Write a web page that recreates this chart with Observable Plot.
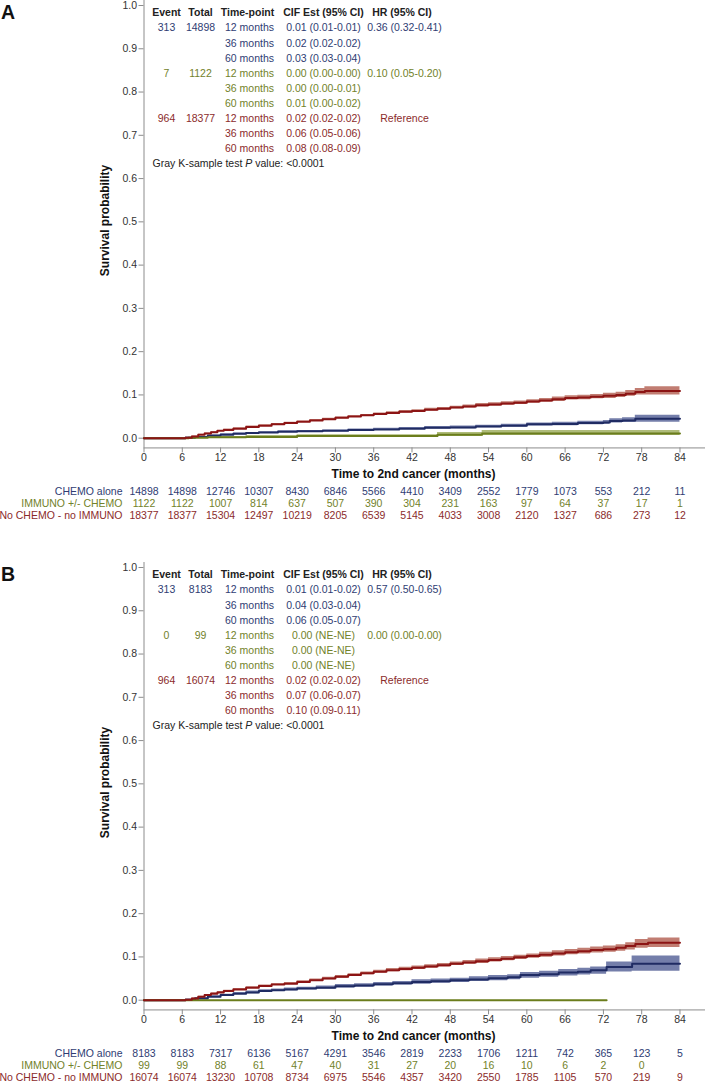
<!DOCTYPE html>
<html><head><meta charset="utf-8">
<script src="https://cdn.jsdelivr.net/npm/d3@7"></script>
<script src="https://cdn.jsdelivr.net/npm/@observablehq/plot@0.6"></script>
<style>
html,body{margin:0;padding:0;background:#fff;overflow:hidden;}
#chart svg{display:block;}
</style></head><body><div id="chart"></div>
<script>
// ---------- DATA ----------
const groupLabels = ["CHEMO alone", "IMMUNO +/- CHEMO", "No CHEMO - no IMMUNO"];
const timePoints = ["12 months", "36 months", "60 months"];
const headers = ["Event", "Total", "Time-point", "CIF Est (95% CI)", "HR (95% CI)"];
const grayText = "Gray K-sample test P value: <0.0001";
const xTicks = [0, 6, 12, 18, 24, 30, 36, 42, 48, 54, 60, 66, 72, 78, 84];
const yTicks = [0, 0.1, 0.2, 0.3, 0.4, 0.5, 0.6, 0.7, 0.8, 0.9, 1.0];
const riskTimes = [0, 6, 12, 18, 24, 30, 36, 42, 48, 54, 60, 66, 72, 78, 84];

// Panel A table
const A_event = ["313", "7", "964"];
const A_total = ["14898", "1122", "18377"];
const A_cif_chemo = ["0.01 (0.01-0.01)", "0.02 (0.02-0.02)", "0.03 (0.03-0.04)"];
const A_cif_immuno = ["0.00 (0.00-0.00)", "0.00 (0.00-0.01)", "0.01 (0.00-0.02)"];
const A_cif_none = ["0.02 (0.02-0.02)", "0.06 (0.05-0.06)", "0.08 (0.08-0.09)"];
const A_hr = ["0.36 (0.32-0.41)", "0.10 (0.05-0.20)", "Reference"];
// Panel B table
const B_event = ["313", "0", "964"];
const B_total = ["8183", "99", "16074"];
const B_cif_chemo = ["0.01 (0.01-0.02)", "0.04 (0.03-0.04)", "0.06 (0.05-0.07)"];
const B_cif_immuno = ["0.00 (NE-NE)", "0.00 (NE-NE)", "0.00 (NE-NE)"];
const B_cif_none = ["0.02 (0.02-0.02)", "0.07 (0.06-0.07)", "0.10 (0.09-0.11)"];
const B_hr = ["0.57 (0.50-0.65)", "0.00 (0.00-0.00)", "Reference"];

// Risk tables
const A_risk_chemo = [14898, 14898, 12746, 10307, 8430, 6846, 5566, 4410, 3409, 2552, 1779, 1073, 553, 212, 11];
const A_risk_immuno = [1122, 1122, 1007, 814, 637, 507, 390, 304, 231, 163, 97, 64, 37, 17, 1];
const A_risk_none = [18377, 18377, 15304, 12497, 10219, 8205, 6539, 5145, 4033, 3008, 2120, 1327, 686, 273, 12];
const B_risk_chemo = [8183, 8183, 7317, 6136, 5167, 4291, 3546, 2819, 2233, 1706, 1211, 742, 365, 123, 5];
const B_risk_immuno = [99, 99, 88, 61, 47, 40, 31, 27, 20, 16, 10, 6, 2, 0];
const B_risk_none = [16074, 16074, 13230, 10708, 8734, 6975, 5546, 4357, 3420, 2550, 1785, 1105, 570, 219, 9];

// Panel A curves
const A_chemo_t   = [0, 6.5, 8, 10, 12, 14, 16, 18, 21, 24, 28, 32, 36, 40, 44, 48, 52, 56, 60, 64, 68, 72, 73, 75, 77, 84];
const A_chemo_est = [0, 0.001, 0.003, 0.006, 0.008, 0.010, 0.012, 0.013, 0.015, 0.016, 0.017, 0.019, 0.020, 0.022, 0.024, 0.025, 0.027, 0.029, 0.032, 0.033, 0.035, 0.036, 0.040, 0.041, 0.045, 0.045];
const A_chemo_lo  = [0, 0.000, 0.002, 0.004, 0.007, 0.008, 0.010, 0.011, 0.013, 0.014, 0.015, 0.017, 0.018, 0.020, 0.021, 0.022, 0.024, 0.026, 0.028, 0.029, 0.031, 0.032, 0.035, 0.036, 0.037, 0.037];
const A_chemo_hi  = [0, 0.002, 0.004, 0.007, 0.010, 0.012, 0.013, 0.015, 0.017, 0.018, 0.019, 0.021, 0.023, 0.025, 0.027, 0.028, 0.030, 0.032, 0.035, 0.037, 0.039, 0.041, 0.045, 0.047, 0.053, 0.053];

const A_immuno_t   = [0, 7, 10, 16, 24, 46, 53, 84];
const A_immuno_est = [0, 0.001, 0.002, 0.003, 0.005, 0.008, 0.011, 0.011];
const A_immuno_lo  = [0, 0.000, 0.000, 0.001, 0.002, 0.004, 0.006, 0.006];
const A_immuno_hi  = [0, 0.002, 0.004, 0.006, 0.008, 0.013, 0.018, 0.018];

const A_none_t   = [0, 6.5, 7.5, 8.5, 9.5, 10.5, 11.5, 12.5, 14, 16, 18, 20, 22, 24, 26, 28, 30, 32, 34, 36, 38, 40, 42, 44, 46, 48, 50, 52, 54, 56, 58, 60, 62, 64, 66, 68, 70, 72, 74, 75.5, 77, 78.5, 84];
const A_none_est = [0, 0.001, 0.004, 0.008, 0.011, 0.014, 0.017, 0.019, 0.022, 0.026, 0.029, 0.032, 0.035, 0.038, 0.041, 0.044, 0.047, 0.050, 0.053, 0.056, 0.058, 0.061, 0.063, 0.066, 0.068, 0.071, 0.073, 0.076, 0.078, 0.080, 0.082, 0.085, 0.087, 0.090, 0.093, 0.094, 0.096, 0.098, 0.100, 0.103, 0.107, 0.109, 0.109];
const A_none_lo  = [0, 0.000, 0.003, 0.007, 0.010, 0.013, 0.016, 0.018, 0.021, 0.024, 0.027, 0.030, 0.033, 0.036, 0.039, 0.042, 0.045, 0.048, 0.050, 0.053, 0.055, 0.058, 0.060, 0.063, 0.065, 0.068, 0.070, 0.072, 0.074, 0.076, 0.078, 0.081, 0.083, 0.085, 0.088, 0.089, 0.091, 0.092, 0.094, 0.097, 0.100, 0.100, 0.100];
const A_none_hi  = [0, 0.002, 0.005, 0.009, 0.012, 0.015, 0.018, 0.021, 0.024, 0.028, 0.031, 0.034, 0.037, 0.040, 0.043, 0.046, 0.049, 0.052, 0.055, 0.058, 0.061, 0.064, 0.066, 0.069, 0.071, 0.074, 0.077, 0.080, 0.082, 0.084, 0.086, 0.089, 0.092, 0.095, 0.098, 0.099, 0.101, 0.104, 0.106, 0.110, 0.115, 0.119, 0.119];

// Panel B curves
const B_chemo_t   = [0, 6.5, 8, 10, 12, 14, 16, 18, 20, 22, 24, 27, 30, 33, 36, 39, 42, 45, 48, 51, 54, 57, 59, 62, 65, 68, 70, 72.5, 76.5, 84];
const B_chemo_est = [0, 0.001, 0.004, 0.008, 0.012, 0.015, 0.018, 0.021, 0.023, 0.025, 0.027, 0.029, 0.032, 0.034, 0.037, 0.039, 0.042, 0.044, 0.046, 0.048, 0.051, 0.053, 0.058, 0.060, 0.064, 0.066, 0.069, 0.077, 0.084, 0.084];
const B_chemo_lo  = [0, 0.000, 0.003, 0.006, 0.010, 0.013, 0.015, 0.018, 0.020, 0.022, 0.024, 0.026, 0.028, 0.030, 0.033, 0.035, 0.037, 0.039, 0.041, 0.043, 0.045, 0.047, 0.051, 0.053, 0.056, 0.058, 0.060, 0.065, 0.067, 0.067];
const B_chemo_hi  = [0, 0.002, 0.006, 0.010, 0.014, 0.018, 0.021, 0.024, 0.026, 0.028, 0.030, 0.033, 0.036, 0.038, 0.041, 0.043, 0.047, 0.049, 0.051, 0.054, 0.057, 0.059, 0.064, 0.067, 0.071, 0.074, 0.077, 0.088, 0.102, 0.102];

const B_immuno_t   = [0, 72.5];
const B_immuno_est = [0, 0];
const B_immuno_lo  = [0, 0];
const B_immuno_hi  = [0, 0];

const B_none_t   = [0, 6.5, 7.5, 8.5, 9.5, 10.5, 11.5, 12.5, 14, 16, 18, 20, 22, 24, 26, 28, 30, 32, 34, 36, 38, 40, 42, 44, 46, 48, 50, 52, 54, 56, 58, 60, 62, 64, 66, 68, 70, 72, 74, 75.5, 77, 79, 84];
const B_none_est = [0, 0.001, 0.004, 0.008, 0.012, 0.015, 0.018, 0.021, 0.025, 0.029, 0.033, 0.036, 0.038, 0.042, 0.046, 0.050, 0.054, 0.058, 0.062, 0.066, 0.069, 0.072, 0.075, 0.078, 0.081, 0.084, 0.087, 0.090, 0.093, 0.096, 0.099, 0.102, 0.105, 0.108, 0.111, 0.113, 0.116, 0.118, 0.121, 0.125, 0.130, 0.133, 0.133];
const B_none_lo  = [0, 0.000, 0.003, 0.007, 0.011, 0.014, 0.017, 0.019, 0.023, 0.027, 0.031, 0.034, 0.036, 0.040, 0.043, 0.047, 0.051, 0.055, 0.059, 0.063, 0.066, 0.068, 0.071, 0.074, 0.077, 0.080, 0.083, 0.085, 0.088, 0.091, 0.094, 0.097, 0.099, 0.102, 0.105, 0.107, 0.109, 0.111, 0.113, 0.116, 0.120, 0.122, 0.122];
const B_none_hi  = [0, 0.002, 0.005, 0.009, 0.013, 0.017, 0.020, 0.023, 0.027, 0.031, 0.035, 0.038, 0.041, 0.045, 0.049, 0.053, 0.057, 0.061, 0.065, 0.069, 0.073, 0.076, 0.079, 0.082, 0.085, 0.088, 0.092, 0.095, 0.098, 0.101, 0.104, 0.107, 0.111, 0.114, 0.117, 0.120, 0.123, 0.125, 0.128, 0.133, 0.140, 0.144, 0.144];

// ---------- STYLE / LAYOUT ----------
const FONT = "'Liberation Sans', Arial, Helvetica, sans-serif";
const FS = 10.5;
const COLORS = [
  {line: "#1f2b63", band: "#4d5a92", text: "#2f3d73"},
  {line: "#6b7d1c", band: "#98a955", text: "#72822a"},
  {line: "#8c1414", band: "#b0584a", text: "#8b2b2b"}
];
const LAY = {
  width: 708, left: 143.5, right: 3, yZero: 437.7, yOne: 5, axisPix: 447.4,
  axisVal: -0.0225, topVal: 1.0115, xMax: 88,
  colEvent: 166, colTotal: 200, colTime: 249, colTimeHead: 247, colCif: 323, colHr: 404, colHrHead: 401.5,
  row0: 11, rowH: 15.1, grayX: 152,
  riskRows: [491, 503.5, 515.5], riskLabelRight: 122,
  xTitleY: 473.3, xTitleX: 413, yTitleX: 105, yTitleY: 220
};

function series(t, est, lo, hi) { return t.map((d, i) => ({t: d, est: est[i], lo: lo[i], hi: hi[i]})); }

function makePanel(p, H) {
  const marginBottom = H - LAY.axisPix;
  const rowY = r => LAY.row0 + r * LAY.rowH;
  const tText = (lines, colX, centerY, fill, weight, anchor = "middle") =>
    Plot.text([lines.join("\n")], {
      text: d => d, frameAnchor: "top-left", dx: colX - LAY.left, dy: centerY,
      textAnchor: anchor, lineAnchor: "middle", lineHeight: LAY.rowH / FS,
      fill, fontWeight: weight, fontSize: FS
    });
  const marks = [];
  // axis lines
  marks.push(Plot.ruleX([0], {y1: LAY.axisVal, y2: LAY.topVal, stroke: "#8c8c8c", strokeWidth: 1}));
  marks.push(Plot.ruleY([LAY.axisVal], {x1: 0, x2: LAY.xMax, stroke: "#8c8c8c", strokeWidth: 1}));
  marks.push(Plot.axisY({ticks: yTicks, tickSize: 5, tickPadding: 2, tickFormat: d3.format(".1f"), label: null, stroke: "#8c8c8c", fill: "#333", fontSize: FS}));
  marks.push(Plot.axisX({ticks: xTicks, tickSize: 5, tickPadding: 1, tickFormat: d => String(d), label: null, stroke: "#8c8c8c", fill: "#333", fontSize: FS}));
  // bands and lines
  p.curves.forEach((c, i) => {
    marks.push(Plot.areaY(c, {x: "t", y1: "lo", y2: "hi", curve: "step-after", fill: COLORS[i].band, fillOpacity: 0.78}));
  });
  p.curves.forEach((c, i) => {
    marks.push(Plot.line(c, {x: "t", y: "est", curve: "step-after", stroke: COLORS[i].line, strokeWidth: 2}));
  });
  // header
  const hcols = [LAY.colEvent, LAY.colTotal, LAY.colTimeHead, LAY.colCif, LAY.colHrHead];
  headers.forEach((h, j) => marks.push(tText([h], hcols[j], rowY(0), "#222", "bold")));
  // group rows
  for (let g = 0; g < 3; g++) {
    const col = COLORS[g].text;
    const r = 1 + 3 * g;
    marks.push(tText([p.event[g]], LAY.colEvent, rowY(r), col, "normal"));
    marks.push(tText([p.total[g]], LAY.colTotal, rowY(r), col, "normal"));
    marks.push(tText(timePoints, LAY.colTime, rowY(r + 1), col, "normal"));
    marks.push(tText(p.cif[g], LAY.colCif, rowY(r + 1), col, "normal"));
    marks.push(tText([p.hr[g]], LAY.colHr, rowY(r), col, "normal"));
  }
  marks.push(tText([grayText], LAY.grayX, rowY(10), "#222", "normal", "start"));
  // risk table
  p.risk.forEach((arr, g) => {
    const rows = arr.map((n, i) => ({t: riskTimes[i], n}));
    marks.push(Plot.text(rows, {x: "t", text: d => String(d.n), frameAnchor: "bottom", dy: LAY.riskRows[g] - LAY.axisPix, lineAnchor: "middle", fill: COLORS[g].text, fontSize: FS}));
    marks.push(Plot.text([groupLabels[g]], {text: d => d, frameAnchor: "bottom-left", dx: LAY.riskLabelRight - LAY.left, dy: LAY.riskRows[g] - LAY.axisPix, textAnchor: "end", lineAnchor: "middle", fill: COLORS[g].text, fontSize: FS}));
  });
  // axis titles
  marks.push(Plot.text(["Time to 2nd cancer (months)"], {text: d => d, frameAnchor: "top-left", dx: LAY.xTitleX - LAY.left, dy: LAY.xTitleY, textAnchor: "middle", lineAnchor: "middle", fontWeight: "bold", fontSize: 12, fill: "#111"}));
  marks.push(Plot.text(["Survival probability"], {text: d => d, frameAnchor: "top-left", dx: LAY.yTitleX - LAY.left, dy: LAY.yTitleY, textAnchor: "middle", rotate: -90, lineAnchor: "middle", fontWeight: "bold", fontSize: 12, fill: "#111"}));
  // panel letter
  marks.push(Plot.text([p.letter], {text: d => d, frameAnchor: "top-left", dx: 0.5 - LAY.left, dy: 4.6, textAnchor: "start", lineAnchor: "top", fontWeight: "bold", fontSize: 19.5, fill: "#111"}));

  const svg = Plot.plot({
    width: LAY.width, height: H,
    marginLeft: LAY.left, marginRight: LAY.right, marginTop: 0, marginBottom,
    x: {domain: [0, LAY.xMax]},
    y: {domain: [0, 1], range: [LAY.yZero, LAY.yOne]},
    style: {fontFamily: FONT, fontSize: FS + "px", background: "#fff", color: "#333", overflow: "visible"},
    marks
  });
  // italic P in the Gray test line
  svg.querySelectorAll("text").forEach(t => {
    if (t.textContent === grayText) {
      t.textContent = "";
      const ns = "http://www.w3.org/2000/svg";
      const parts = [["Gray K-sample test ", false], ["P", true], [" value: <0.0001", false]];
      for (const [s, it] of parts) {
        const ts = document.createElementNS(ns, "tspan");
        ts.textContent = s;
        if (it) ts.setAttribute("font-style", "italic");
        t.appendChild(ts);
      }
    }
  });
  return svg;
}

const panelA = {
  letter: "A", event: A_event, total: A_total,
  cif: [A_cif_chemo, A_cif_immuno, A_cif_none], hr: A_hr,
  risk: [A_risk_chemo, A_risk_immuno, A_risk_none],
  curves: [series(A_chemo_t, A_chemo_est, A_chemo_lo, A_chemo_hi),
           series(A_immuno_t, A_immuno_est, A_immuno_lo, A_immuno_hi),
           series(A_none_t, A_none_est, A_none_lo, A_none_hi)]
};
const panelB = {
  letter: "B", event: B_event, total: B_total,
  cif: [B_cif_chemo, B_cif_immuno, B_cif_none], hr: B_hr,
  risk: [B_risk_chemo, B_risk_immuno, B_risk_none],
  curves: [series(B_chemo_t, B_chemo_est, B_chemo_lo, B_chemo_hi),
           series(B_immuno_t, B_immuno_est, B_immuno_lo, B_immuno_hi),
           series(B_none_t, B_none_est, B_none_lo, B_none_hi)]
};
const root = document.getElementById("chart");
root.appendChild(makePanel(panelA, 562));
root.appendChild(makePanel(panelB, 523));
</script>
</body></html>
